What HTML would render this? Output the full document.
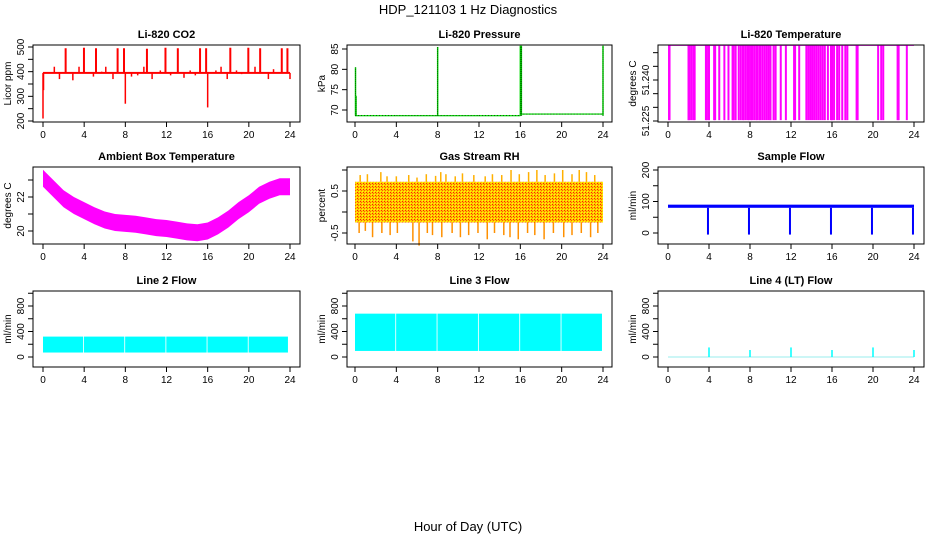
<!DOCTYPE html>
<html><head><meta charset="utf-8">
<style>
html,body{margin:0;padding:0;background:#fff;}
svg{display:block;font-family:"Liberation Sans",sans-serif;}
.tl{font-size:10px;fill:#000;}
.tt{font-size:11px;font-weight:bold;fill:#000;}
</style></head>
<body>
<svg id="c" width="936" height="540" viewBox="0 0 936 540">
<defs>
<pattern id="rhpat" width="3" height="3" patternUnits="userSpaceOnUse">
<rect width="3" height="3" fill="#ffc800"/><rect width="1" height="1" fill="#ff2000"/><rect x="1" y="1" width="1" height="1" fill="#ff6000"/><rect x="2" y="2" width="1" height="1" fill="#ffff00"/>
</pattern>
</defs>
<text x="468" y="14" text-anchor="middle" font-size="13">HDP_121103  1 Hz Diagnostics</text>
<text x="468" y="531" text-anchor="middle" font-size="13">Hour of Day (UTC)</text>
</svg>
<script>
// ---- data ----
const xTicks=[0,4,8,12,16,20,24];
const coBase=[395,395];
const coSpikeHours=[2.2,3.98,5.15,7.25,7.87,10.1,11.9,13.1,15.26,15.85,18.2,19.95,21.1,23.2,23.75];
const coSpikeVals=[495,497,495,495,495,493,497,495,495,495,497,497,495,495,495];
const coSmallHours=[1.1,1.6,2.9,3.5,4.9,5.7,6.1,6.8,8.6,9.2,9.8,10.6,11.4,12.4,13.7,14.3,14.8,16.8,17.3,17.9,18.8,19.3,20.6,21.9,22.4];
const coSmallVals=[420,370,365,420,380,400,420,370,380,385,420,370,405,385,375,405,385,405,420,370,405,390,420,370,410];
const coDipHours=[0,0.05,8,16,24];
const coDipVals=[210,325,270,255,370];
const prHours=[0,4,8,12,16,20,24];
const prBase=[68.6,68.6,68.6,68.6,69.0,69.0,69.0];
const prSpikeHours=[0.05,0.1,8,16,16.1,24];
const prSpikeVals=[80.5,73.5,85.5,85.8,85.8,85.8];
const tTop=[51.2527];
const tLow=[51.2253];
const tDropHours=[0.1,0.15,2.0,2.1,2.3,2.5,2.6,3.7,3.8,4.0,4.5,4.6,5.0,5.5,5.9,6.3,6.4,6.6,6.9,7.1,7.3,7.4,7.6,7.8,7.9,8.1,8.2,8.4,8.6,8.7,8.9,9.0,9.2,9.4,9.6,9.8,10.0,10.3,10.5,11.0,11.5,12.3,12.4,12.8,13.5,13.7,13.9,14.1,14.3,14.5,14.7,14.9,15.1,15.3,15.6,15.9,16.0,16.2,16.5,16.7,17.0,17.3,17.5,18.4,18.5,20.5,20.8,21.0,22.4,22.5,23.3];
const ambHours=[0,1,2,3,4,5,6,7,8,9,10,11,12,13,14,15,16,17,18,19,20,21,22,23,24];
const ambCenter=[23.1,22.5,21.9,21.5,21.2,20.9,20.65,20.5,20.45,20.4,20.3,20.2,20.15,20.05,19.95,19.9,20.0,20.3,20.7,21.2,21.6,22.1,22.4,22.6,22.6];
const ambHalf=[0.5];
const rhBody=[-0.25,0.72];
const rhHiHours=[0.5,1.2,2.5,3.1,4.0,5.2,6.0,6.9,7.8,8.3,8.8,9.7,10.4,11.5,12.6,13.3,14.2,15.1,15.9,16.8,17.6,18.4,19.3,20.1,21.0,21.7,22.4,23.2];
const rhHiVals=[0.88,0.9,0.95,0.85,0.85,0.88,0.82,0.9,0.86,0.95,0.9,0.85,0.92,0.88,0.85,0.9,0.88,1.0,0.9,0.95,1.0,0.88,0.92,1.0,0.9,1.0,0.95,0.88];
const rhLoHours=[0.4,1.0,1.7,2.6,3.4,4.1,5.6,6.2,7.0,7.5,8.4,9.4,10.2,11.0,11.9,12.8,13.5,14.4,15.0,15.8,16.7,17.4,18.3,19.2,20.2,21.0,21.9,22.8,23.5];
const rhLoVals=[-0.5,-0.45,-0.6,-0.5,-0.55,-0.5,-0.7,-0.8,-0.5,-0.55,-0.6,-0.5,-0.6,-0.55,-0.5,-0.65,-0.5,-0.55,-0.6,-0.65,-0.5,-0.55,-0.65,-0.5,-0.6,-0.55,-0.5,-0.6,-0.5];
const sfBand=[80,90];
const sfDropHours=[3.9,7.9,11.9,15.9,19.9,23.9];
const sfDropVals=[-5,-5,-5,-5,-5,-5];
const l2Band=[70,320];
const l3Band=[95,680];
const flowGapHours=[3.9,7.9,11.9,15.9,19.9];
const l4SpikeHours=[4,8,12,16,20,24];
const l4SpikeVals=[150,110,150,110,150,110];

// ---- layout ----
const cols=[{x0:33,x1:300,h0:43,h24:290},{x0:347,x1:612,h0:355,h24:603},{x0:658,x1:924,h0:668,h24:914}];
const rows=[{y0:45,y1:122},{y0:167,y1:244},{y0:291,y1:367}];
const svg=document.getElementById('c');
const NS='http://www.w3.org/2000/svg';
function mk(tag,at,parent){const e=document.createElementNS(NS,tag);for(const k in at)e.setAttribute(k,at[k]);(parent||svg).appendChild(e);return e;}

function panel(ci,ri,title,ylab,v1,p1,v2,p2,ticks,labels,name){
  const c=cols[ci],r=rows[ri];
  const g=mk('g',{});
  
  
  const X=h=>c.h0+(c.h24-c.h0)*h/24;
  const Y=v=>p1+(p2-p1)*(v-v1)/(v2-v1);
  const plot=mk('g',{},g);
  
  
  const box=mk('rect',{x:c.x0,y:r.y0,width:c.x1-c.x0,height:r.y1-r.y0,fill:'none',stroke:'#000','stroke-width':1},g);
  
  
  const t=mk('text',{x:(c.x0+c.x1)/2,y:r.y0-7,'text-anchor':'middle',class:'tt'},g);
  t.textContent=title;
  
  
  const xa=mk('g',{},g);
  
  
  mk('line',{x1:X(0),x2:X(24),y1:r.y1,y2:r.y1,stroke:'#000'},xa);
  xTicks.forEach(h=>{
    mk('line',{x1:X(h),x2:X(h),y1:r.y1,y2:r.y1+5,stroke:'#000'},xa);
    const tx=mk('text',{x:X(h),y:r.y1+16,'text-anchor':'middle',class:'tl'},xa);tx.textContent=h;
  });
  const ya=mk('g',{},g);
  
  
  mk('line',{x1:c.x0,x2:c.x0,y1:Y(ticks[0]),y2:Y(ticks[ticks.length-1]),stroke:'#000'},ya);
  ticks.forEach(v=>mk('line',{x1:c.x0-5,x2:c.x0,y1:Y(v),y2:Y(v),stroke:'#000'},ya));
  labels.forEach(v=>{
    const yy=Y(v);const tx=mk('text',{x:c.x0-9,y:yy,'text-anchor':'middle',class:'tl',transform:`rotate(-90 ${c.x0-9} ${yy})`},ya);
    tx.textContent=String(v);
  });
  const yl=mk('text',{x:c.x0-22,y:(r.y0+r.y1)/2,'text-anchor':'middle',class:'tl',transform:`rotate(-90 ${c.x0-22} ${(r.y0+r.y1)/2})`},ya);
  yl.textContent=ylab;
  
  
  return {X,Y,g:plot};
}
function vl(P,h,a,b,col,w){mk('line',{x1:P.X(h),x2:P.X(h),y1:P.Y(a),y2:P.Y(b),stroke:col,'stroke-width':w||1.5},P.g);}
function bandRect(P,h1,h2,lo,hi,fill){mk('rect',{x:P.X(h1),y:P.Y(hi),width:P.X(h2)-P.X(h1),height:P.Y(lo)-P.Y(hi),fill:fill},P.g);}

let P=panel(0,0,'Li-820 CO2','Licor ppm',500,47,200,121,[200,250,300,350,400,450,500],[200,300,400,500],'co2');
bandRect(P,0,24,coBase[0]-4,coBase[1]+4,'#f00');
coSpikeHours.forEach((h,i)=>vl(P,h,395,coSpikeVals[i],'#f00',2));
coSmallHours.forEach((h,i)=>vl(P,h,395,coSmallVals[i],'#f00',1.5));
coDipHours.forEach((h,i)=>vl(P,h,395,coDipVals[i],'#f00',1.5));

P=panel(1,0,'Li-820 Pressure','kPa',85,49,70,110,[70,75,80,85],[70,75,80,85],'pressure');
for(let i=0;i<prHours.length-1;i++){
  bandRect(P,prHours[i],prHours[i+1],prBase[i]-0.15,prBase[i]+0.15,'#00dd00');
  mk('line',{x1:P.X(prHours[i]),x2:P.X(prHours[i+1]),y1:P.Y(prBase[i]),y2:P.Y(prBase[i]),stroke:'#000','stroke-width':0.6,'stroke-dasharray':'1 2'},P.g);
}
prSpikeHours.forEach((h,i)=>{vl(P,h,68.6,prSpikeVals[i],'#00dd00',1.5);mk('line',{x1:P.X(h),x2:P.X(h),y1:P.Y(68.6),y2:P.Y(prSpikeVals[i]),stroke:'#000','stroke-width':0.6,'stroke-dasharray':'1 1'},P.g);});

P=panel(2,0,'Li-820 Temperature','degrees C',51.24,80,51.225,121,[51.225,51.23,51.235,51.24,51.245,51.25],['51.225','51.240'],'li820-temp');
mk('line',{x1:P.X(0),x2:P.X(24),y1:P.Y(tTop[0]),y2:P.Y(tTop[0]),stroke:'#ff00ff','stroke-width':1.2},P.g);
tDropHours.forEach(h=>vl(P,h,tTop[0],tLow[0],'#ff00ff',2));

P=panel(0,1,'Ambient Box Temperature','degrees C',22,197,20,231,[20,21,22,23],[20,22],'ambient-temp');
{let top=ambHours.map((h,i)=>P.X(h)+','+P.Y(ambCenter[i]+ambHalf[0])).join(' ');
 let bot=ambHours.slice().reverse().map((h,k)=>{const i=ambHours.length-1-k;return P.X(h)+','+P.Y(ambCenter[i]-ambHalf[0]);}).join(' ');
 mk('polygon',{points:top+' '+bot,fill:'#ff00ff'},P.g);}

P=panel(1,1,'Gas Stream RH','percent',0.5,191,-0.5,233,[-0.5,0,0.5,1],['-0.5','0.5'],'gas-rh');
bandRect(P,0,24,rhBody[0],rhBody[1],'url(#rhpat)');
rhHiHours.forEach((h,i)=>vl(P,h,rhBody[1],rhHiVals[i],'#ffb000',1.5));
rhLoHours.forEach((h,i)=>vl(P,h,rhBody[0],rhLoVals[i],'#ff9000',1.5));

P=panel(2,1,'Sample Flow','ml/min',200,170,0,233,[0,50,100,150,200],[0,100,200],'sample-flow');
bandRect(P,0,24,sfBand[0],sfBand[1],'#0000ff');
sfDropHours.forEach((h,i)=>vl(P,h,sfBand[0],sfDropVals[i],'#0000ff',2));

const lt=[0,200,400,600,800,1000],ll=[0,400,800];
P=panel(0,2,'Line 2 Flow','ml/min',0,357,800,306,lt,ll,'line2-flow');
{let s=[0,...flowGapHours],e=[...flowGapHours,23.8];
 s.forEach((h,i)=>bandRect(P,h+(i?0.08:0),e[i],l2Band[0],l2Band[1],'#00ffff'));}
P=panel(1,2,'Line 3 Flow','ml/min',0,357,800,306,lt,ll,'line3-flow');
{let s=[0,...flowGapHours],e=[...flowGapHours,23.9];
 s.forEach((h,i)=>bandRect(P,h+(i?0.08:0),e[i],l3Band[0],l3Band[1],'#00ffff'));}
P=panel(2,2,'Line 4 (LT) Flow','ml/min',0,357,800,306,lt,ll,'line4-flow');
mk('line',{x1:P.X(0),x2:P.X(24),y1:P.Y(0),y2:P.Y(0),stroke:'#9ee','stroke-width':1},P.g);
l4SpikeHours.forEach((h,i)=>vl(P,h,0,l4SpikeVals[i],'#00ffff',1.5));
</script>
</body></html>
